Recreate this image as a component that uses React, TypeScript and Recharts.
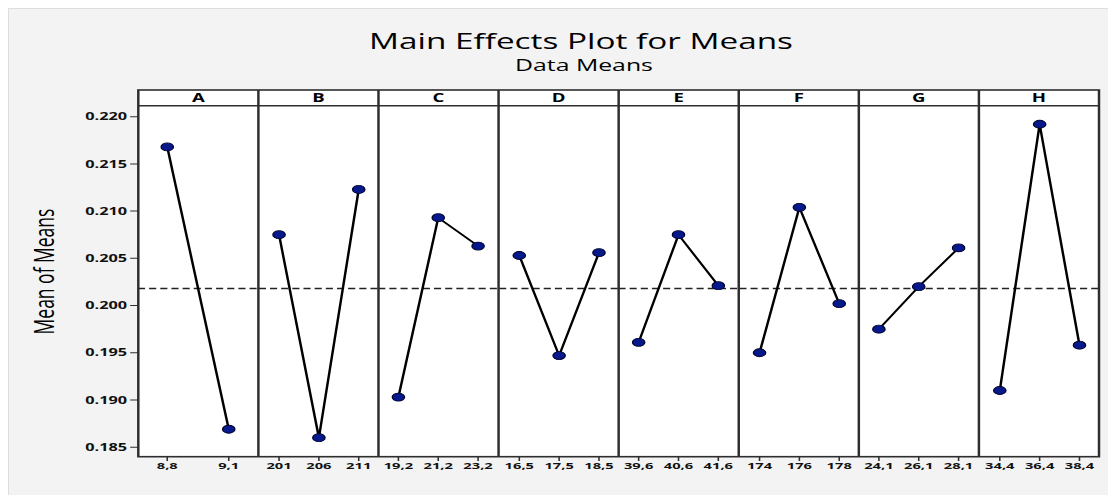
import { LineChart, Line, XAxis, YAxis, ReferenceLine } from 'recharts';

// the source picture is stretched sideways, so the whole plot is drawn narrow and scaled
const S = 1.55;

const factors = ['A', 'B', 'C', 'D', 'E', 'F', 'G', 'H'];
const levels = [
  ['8,8', '9,1'],
  ['201', '206', '211'],
  ['19,2', '21,2', '23,2'],
  ['16,5', '17,5', '18,5'],
  ['39,6', '40,6', '41,6'],
  ['174', '176', '178'],
  ['24,1', '26,1', '28,1'],
  ['34,4', '36,4', '38,4'],
];
const means = [
  [0.2168, 0.1869],
  [0.2075, 0.186, 0.2123],
  [0.1903, 0.2093, 0.2063],
  [0.2053, 0.1947, 0.2056],
  [0.1961, 0.2075, 0.2021],
  [0.195, 0.2104, 0.2002],
  [0.1975, 0.202, 0.2061],
  [0.191, 0.2192, 0.1958],
];
const yTicks = [0.185, 0.19, 0.195, 0.2, 0.205, 0.21, 0.215, 0.22];
const grandMean = 0.2018;
const yDomain = [0.18396, 0.22113];

const FONT = '"Open Sans", sans-serif';
const plotLeft = 138.3 / S;
const panelW = (1099 - 138.3) / 8 / S;
const headerTop = 90;
const plotTop = 105.7;
const plotBottom = 456.7;
const plotH = plotBottom - plotTop;
const axisH = 26;
const yw = 42;
const border = '#2e2e2e';

function Panel({ idx }: { idx: number }) {
  const data = levels[idx].map((level, i) => ({ level, mean: means[idx][i] }));
  const first = idx === 0;
  const pad = (levels[idx].length === 2 ? 29.3 : 20.2) / S;
  const width = panelW + (first ? yw : 0);
  return (
    <div
      style={{
        position: 'absolute',
        left: plotLeft + idx * panelW - (first ? yw : 0),
        top: plotTop,
      }}
    >
      <LineChart width={width} height={plotH + axisH} data={data} margin={{ top: 0, right: 0, bottom: 0, left: 0 }}>
        <XAxis
          dataKey="level"
          interval={0}
          height={axisH}
          padding={{ left: pad, right: pad }}
          axisLine={false}
          tickLine={{ stroke: border, strokeWidth: 1 }}
          tickSize={4}
          tickMargin={1}
          tick={{ fontSize: 9.5, fontWeight: 700, fill: '#111', fontFamily: FONT }}
        />
        <YAxis
          type="number"
          domain={yDomain}
          allowDataOverflow
          ticks={yTicks}
          hide={!first}
          width={yw}
          axisLine={false}
          tickLine={{ stroke: border, strokeWidth: 1 }}
          tickSize={5}
          tickMargin={2}
          tickFormatter={(v: number) => v.toFixed(3)}
          tick={{ fontSize: 10.5, fontWeight: 700, fill: '#111', fontFamily: FONT }}
        />
        <ReferenceLine y={grandMean} stroke="#222" strokeWidth={1.6} strokeDasharray="4.6 2.6" />
        <Line
          type="linear"
          dataKey="mean"
          stroke="#000"
          strokeWidth={1.6}
          dot={{ r: 4, fill: '#06198c', stroke: '#000026', strokeWidth: 0.8 }}
          isAnimationActive={false}
        />
      </LineChart>
    </div>
  );
}

export default function App() {
  const innerW = 1108 / S;
  const totalW = panelW * 8;
  return (
    <div style={{ position: 'absolute', left: 0, top: 0, width: 1108, height: 495, background: '#fff', overflow: 'hidden' }}>
      <div
        style={{
          position: 'absolute',
          left: 8,
          top: 8,
          width: 1100,
          height: 487,
          background: '#f3f3f3',
          borderTop: '1px solid #dddddd',
          borderLeft: '1px solid #dddddd',
        }}
      />
      <div
        style={{
          position: 'absolute',
          left: 0,
          top: 0,
          width: innerW,
          height: 495,
          transform: `scaleX(${S})`,
          transformOrigin: '0 0',
        }}
      >
        <div
          style={{
            position: 'absolute',
            left: plotLeft,
            top: headerTop,
            width: totalW,
            height: plotBottom - headerTop,
            background: '#fff',
          }}
        />
        {factors.map((f, i) => (
          <Panel key={f} idx={i} />
        ))}
        <svg
          width={innerW}
          height={495}
          style={{ position: 'absolute', left: 0, top: 0, pointerEvents: 'none' }}
        >
          <text x={581 / S} y={49} textAnchor="middle" fontFamily={FONT} fontSize={21.5} fill="#000">
            Main Effects Plot for Means
          </text>
          <text x={584 / S} y={71} textAnchor="middle" fontFamily={FONT} fontSize={16} fill="#000">
            Data Means
          </text>
          <text
            transform={`translate(${44 / S + 6.3}, 271.5) rotate(-90)`}
            textAnchor="middle"
            fontFamily={FONT}
            fontSize={17.5}
            fill="#000"
          >
            Mean of Means
          </text>
          <rect
            x={plotLeft}
            y={headerTop}
            width={totalW}
            height={plotBottom - headerTop}
            fill="none"
            stroke={border}
            strokeWidth={1.6}
          />
          <line x1={plotLeft} x2={plotLeft + totalW} y1={plotTop} y2={plotTop} stroke={border} strokeWidth={1.6} />
          {factors.slice(1).map((f, i) => (
            <line
              key={f}
              x1={plotLeft + (i + 1) * panelW}
              x2={plotLeft + (i + 1) * panelW}
              y1={headerTop}
              y2={plotBottom}
              stroke={border}
              strokeWidth={1.6}
            />
          ))}
          {factors.map((f, i) => (
            <text
              key={f}
              x={plotLeft + (i + 0.5) * panelW}
              y={102.3}
              textAnchor="middle"
              fontFamily={FONT}
              fontSize={12}
              fontWeight={700}
              fill="#000"
            >
              {f}
            </text>
          ))}
        </svg>
      </div>
    </div>
  );
}
